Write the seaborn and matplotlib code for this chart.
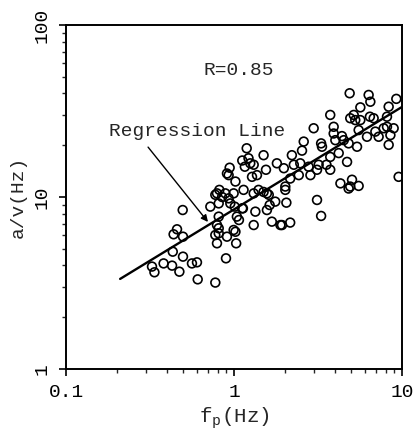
import matplotlib
matplotlib.use("Agg")
import matplotlib.pyplot as plt
import seaborn as sns
import pandas as pd
from matplotlib.ticker import LogLocator, NullFormatter, FixedLocator, FixedFormatter

fp_hz = [0.325, 0.336, 0.381, 0.432, 0.428, 0.473, 0.497, 0.437, 0.458, 0.497,
         0.495, 0.562, 0.602, 0.608, 0.774, 0.723, 0.896, 0.792, 0.811, 0.811,
         0.908, 1.02, 1.03, 0.811, 0.774, 0.818, 0.849, 0.929, 0.951, 0.995,
         1.02, 0.908, 0.942, 1.01, 1.04, 1.07, 1.13, 1.14, 1.12, 1.16,
         1.19, 1.22, 1.31, 1.28, 1.37, 1.50, 1.55, 1.40, 1.50, 1.61,
         1.31, 1.34, 1.57, 1.63, 1.68, 1.76, 1.80, 1.98, 2.02, 2.05,
         1.93, 2.16, 2.02, 2.16, 2.21, 2.27, 2.43, 2.48, 2.54, 2.60,
         2.78, 2.85, 2.98, 3.12, 3.19, 3.30, 3.34, 3.12, 3.30, 3.55,
         3.74, 3.74, 3.74, 3.92, 3.92, 4.01, 4.20, 4.30, 4.39, 4.50,
         4.71, 4.81, 4.88, 4.92, 4.92, 5.04, 4.81, 5.16, 5.27, 5.40,
         5.52, 5.65, 5.65, 5.52, 6.19, 6.33, 6.48, 6.44, 6.78, 6.94,
         7.26, 7.78, 8.14, 8.33, 8.33, 8.53, 8.92, 9.25, 9.55, 8.14,
         1.25, 0.929, 0.792, 0.888, 0.811, 1.12, 1.31, 1.57, 1.89, 0.774,
         0.792, 0.995]
av_hz = [3.94, 3.65, 4.11, 4.81, 3.99, 3.68, 4.50, 6.07, 6.49, 5.88,
         8.40, 4.11, 4.17, 3.32, 3.18, 8.79, 4.40, 5.38, 6.15, 6.58,
         5.88, 6.28, 5.38, 7.69, 10.3, 11.0, 10.0, 9.82, 9.18, 10.5,
         12.3, 13.7, 14.8, 8.79, 7.69, 7.35, 8.59, 11.0, 16.3, 15.0,
         19.2, 16.8, 15.4, 13.1, 13.4, 17.5, 14.4, 11.0, 10.7, 10.3,
         6.87, 8.22, 8.40, 8.98, 7.19, 9.40, 15.7, 14.7, 11.5, 9.27,
         6.87, 7.10, 11.0, 12.8, 17.5, 15.4, 13.4, 15.7, 18.6, 21.0,
         15.0, 13.4, 25.1, 14.4, 15.4, 20.5, 19.6, 9.61, 7.76, 15.4,
         14.4, 17.1, 30.0, 25.6, 23.4, 21.4, 18.0, 12.0, 22.6, 21.4,
         16.0, 20.5, 40.1, 28.7, 11.5, 12.6, 11.2, 30.0, 28.0, 19.6,
         24.5, 33.2, 28.0, 11.6, 22.4, 39.2, 35.8, 29.3, 28.7, 24.0,
         22.4, 25.1, 29.3, 33.5, 20.1, 22.9, 25.1, 37.2, 13.1, 25.6,
         15.7, 13.4, 10.5, 10.5, 9.18, 8.59, 10.5, 10.5, 6.87, 6.01,
         6.87, 6.43]

line_fp = [0.21, 10.0]
line_av = [3.34, 33.4]

x_ticks = [0.1, 1, 10]
x_tick_labels = ["0.1", "1", "10"]
y_ticks = [1, 10, 100]
y_tick_labels = ["1", "10", "100"]

sns.set_theme(style="ticks")
mono = ["Liberation Mono", "DejaVu Sans Mono"]
plt.rcParams["font.family"] = mono
plt.rcParams["mathtext.fontset"] = "custom"
plt.rcParams["mathtext.rm"] = "Liberation Mono"
plt.rcParams["mathtext.it"] = "Liberation Mono"

fig = plt.figure(figsize=(4.16, 4.37), dpi=100)
ax = fig.add_axes([66 / 416, 68 / 437, 336 / 416, 344 / 437])

pts = pd.DataFrame({"fp": fp_hz, "av": av_hz})
sns.scatterplot(data=pts, x="fp", y="av", ax=ax, s=40, facecolor="none",
                edgecolor="black", linewidth=1.2, marker="o", zorder=3)
ln = pd.DataFrame({"fp": line_fp, "av": line_av})
sns.lineplot(data=ln, x="fp", y="av", ax=ax, color="black", linewidth=1.7, zorder=4)

ax.set_xscale("log")
ax.set_yscale("log")
ax.set_xlim(0.1, 10)
ax.set_ylim(1, 100)

ax.xaxis.set_major_locator(FixedLocator(x_ticks))
ax.xaxis.set_major_formatter(FixedFormatter(x_tick_labels))
ax.yaxis.set_major_locator(FixedLocator(y_ticks))
ax.yaxis.set_major_formatter(FixedFormatter(y_tick_labels))
ax.xaxis.set_minor_locator(LogLocator(base=10, subs=range(2, 10)))
ax.yaxis.set_minor_locator(LogLocator(base=10, subs=range(2, 10)))
ax.xaxis.set_minor_formatter(NullFormatter())
ax.yaxis.set_minor_formatter(NullFormatter())

ax.tick_params(axis="both", which="major", direction="out", length=5, width=1.2,
               labelsize=14, colors="black", pad=6)
ax.tick_params(axis="both", which="minor", direction="out", length=3, width=1.0)
for lbl in ax.get_yticklabels():
    lbl.set_rotation(90)
    lbl.set_va("center")

for sp in ax.spines.values():
    sp.set_linewidth(1.4)
    sp.set_color("black")
    sp.set_visible(True)

ax.set_xlabel(r"f$_{\mathrm{p}}$(Hz)", fontsize=15, labelpad=3)
ax.set_ylabel("a/v(Hz)", fontsize=14, labelpad=5)

ax.text(1.07, 54.7, "R=0.85", ha="center", va="center", fontsize=14)
ax.text(0.60, 24.0, "Regression Line", ha="center", va="center", fontsize=14)
ax.annotate("", xy=(0.70, 7.16), xytext=(0.308, 19.5),
            arrowprops=dict(arrowstyle="-|>", color="black", lw=1.0,
                            shrinkA=0, shrinkB=0, mutation_scale=10))

fig.savefig("out.png", dpi=100, facecolor="white")
